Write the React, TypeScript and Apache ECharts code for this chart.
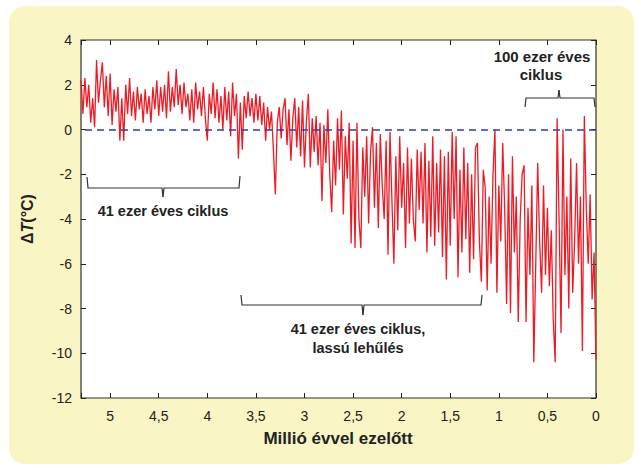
import React, { useEffect, useRef } from "react";
import * as echarts from "echarts";

// Sampling grid of the record (million years ago)
const AGE_START = 5.3;
const AGE_STEP = 0.02;

// Temperature anomaly (°C), oldest (5.30 Ma) to present (0.00 Ma)
const tempValues: number[] = [
  2.2, 0.7, 2.3, 1.0, 2.0,
  0.3, 1.4, 0.1, 3.1, 1.2,
  2.2, 3.0, 1.0, 2.4, 0.6,
  2.5, 0.2, 1.8, 0.8, 1.9,
  -0.5, 1.4, -0.5, 2.0, 0.7,
  2.3, 0.6, 1.7, 0.4, 1.9,
  0.9, 1.6, 0.3, 1.8, 0.7,
  1.5, 0.3, 1.9, 0.9, 2.2,
  0.6, 1.9, 0.8, 2.0, 0.5,
  2.6, 0.8, 1.9, 1.0, 2.7,
  1.1, 2.0, 0.7, 2.1, 1.0,
  1.6, 0.4, 1.8, 0.3, 2.1,
  0.9, 1.7, 0.6, 1.9, 0.5,
  -0.5, 1.6, 0.7, 2.1, 0.5,
  1.8, 0.3, 1.5, 0.0, 1.9,
  0.4, 1.7, -0.3, 2.1, 0.6,
  1.6, -1.3, 1.2, -0.9, 1.5,
  0.5, 1.7, 0.6, 1.4, 0.3,
  1.6, 0.4, 1.5, 0.2, 1.2,
  -0.5, 1.0, 0.0, 0.8, -0.9,
  -2.9, 0.3, 1.0, -0.4, 0.9,
  1.4, -0.7, 0.9, -1.4, 0.5,
  1.4, -0.8, 1.0, -1.2, 1.3,
  -1.7, 0.4, 1.6, -1.7, 0.5,
  -1.0, 0.6, -1.6, 0.3, -3.2,
  0.2, -1.5, 0.9, -2.0, -3.7,
  -0.5, -2.5, 0.5, -1.8, 0.85,
  -3.8, -0.3, -2.2, 0.3, -5.1,
  -0.5, -5.3, 0.3, -4.0, -5.3,
  -0.8, -3.0, -0.3, -4.2, -1.0,
  0.1, -3.5, -0.6, -4.4, -0.2,
  -2.5, -4.0, -0.5, -5.6, -0.1,
  -3.2, -6.0, -1.2, -4.5, -0.3,
  -3.5, -1.5, -5.3, -0.8, -4.2,
  -1.3, -4.0, -5.0, -0.9, -3.6,
  -1.0, -4.2, -0.6, -5.5, -1.4,
  -4.8, -0.3, -5.2, -1.5, -4.6,
  -0.9, -5.7, -1.2, -6.7, -1.0,
  -5.2, -0.1, -4.0, -0.3, -6.6,
  -1.8, -5.5, -0.8, -4.9, -1.5,
  -6.4, -2.0, -5.8, -0.8, -0.6,
  -5.0, -6.8, -1.8, -2.6, -7.2,
  -3.0, -6.0, -2.0, 0.0, -7.3,
  -2.5, -5.0, -0.6, -3.5, -7.8,
  -2.0, -8.2, -1.2, -5.5, -3.0,
  -8.6, -4.0, -2.0, -1.6, -8.6,
  -3.5, -6.5, -2.5, -10.4, -6.0,
  -1.5, -5.0, -7.3, -2.5, -6.5,
  -3.5, -7.0, -4.5, -8.5, -10.4,
  0.5, -4.0, -9.1, 0.0, -6.5,
  -3.0, -8.0, -1.3, -7.3, -5.0,
  -1.5, -6.0, -3.0, -9.9, 0.6,
  -3.5, -6.0, -2.9, -7.6, -5.5,
  -10.3,
];

const xTickLabels = ["5", "4,5", "4", "3,5", "3", "2,5", "2", "1,5", "1", "0,5", "0"];
const yTickValues = [4, 2, 0, -2, -4, -6, -8, -10, -12];

const X_MIN = 0;
const X_MAX = 5.3;
const X_INTERVAL = 0.5;
const Y_MIN = -12;
const Y_MAX = 4;
const Y_INTERVAL = 2;

const FONT = "'Liberation Sans', Arial, Helvetica, sans-serif";
const INK = "#222";

function fmtX(v: number): string {
  const k = Math.round(v / X_INTERVAL);
  if (Math.abs(k * X_INTERVAL - v) > 1e-6) return "";
  const idx = xTickLabels.length - 1 - k;
  return xTickLabels[idx] ?? "";
}

function fmtY(v: number): string {
  return yTickValues.includes(v) ? String(v) : "";
}

export default function App() {
  const ref = useRef<HTMLDivElement>(null);

  useEffect(() => {
    if (!ref.current) return;
    const chart = echarts.init(ref.current, undefined, { renderer: "svg" });
    const data = tempValues.map((v, i) => [+(AGE_START - i * AGE_STEP).toFixed(2), v]);

    const baseX = {
      type: "value" as const,
      min: X_MIN,
      max: X_MAX,
      interval: X_INTERVAL,
      inverse: true,
      axisLine: { show: false, onZero: false },
      splitLine: { show: false },
      axisTick: { show: true, inside: true, length: 5, lineStyle: { color: INK, width: 1 } },
    };
    const baseY = {
      type: "value" as const,
      min: Y_MIN,
      max: Y_MAX,
      interval: Y_INTERVAL,
      axisLine: { show: false, onZero: false },
      splitLine: { show: false },
      axisTick: { show: true, inside: true, length: 5, lineStyle: { color: INK, width: 1 } },
    };

    const textStyle = (s: string, x: number, y: number, size = 14.5) => ({
      type: "text",
      x,
      y,
      z: 100,
      style: {
        text: s,
        fill: INK,
        font: `bold ${size}px ${FONT}`,
        align: "center",
        verticalAlign: "middle",
      },
    });
    const brace = (pts: number[][]) => ({
      type: "polyline",
      z: 100,
      shape: { points: pts },
      style: { stroke: "#333", lineWidth: 1.2, fill: "none" },
    });

    chart.setOption({
      animation: false,
      backgroundColor: "transparent",
      textStyle: { fontFamily: FONT },
      grid: {
        left: 81,
        right: 45,
        top: 40,
        bottom: 70,
        show: true,
        backgroundColor: "#ffffff",
        borderColor: "#333",
        borderWidth: 1.2,
      },
      xAxis: [
        {
          ...baseX,
          position: "bottom",
          axisLabel: { formatter: fmtX, color: INK, fontSize: 14, margin: 11, fontFamily: FONT },
        },
        { ...baseX, position: "top", axisLabel: { show: false } },
      ],
      yAxis: [
        {
          ...baseY,
          position: "left",
          axisLabel: { formatter: fmtY, color: INK, fontSize: 14, margin: 9, fontFamily: FONT },
          name: "{d|Δ}{t|T}{d|(°C)}",
          nameLocation: "middle",
          nameGap: 46,
          nameRotate: 90,
          nameTextStyle: {
            rich: {
              d: { fontSize: 16, fontWeight: "bold", color: INK, fontFamily: FONT },
              t: { fontSize: 16, fontWeight: "bold", fontStyle: "italic", color: INK, fontFamily: FONT },
            },
          },
        },
        { ...baseY, position: "right", axisLabel: { show: false } },
      ],
      series: [
        {
          type: "line",
          xAxisIndex: 0,
          yAxisIndex: 0,
          data,
          showSymbol: false,
          symbol: "none",
          lineStyle: { color: "#ef1a24", width: 1.3 },
          z: 3,
          markLine: {
            silent: true,
            symbol: ["none", "none"],
            label: { show: false },
            lineStyle: { color: "#2f3f9f", type: [7, 5], width: 1.6 },
            data: [{ yAxis: 0 }],
            z: 5,
          },
        },
      ],
      graphic: [
        // 41 kyr bracket (early)
        brace([[87, 177], [88, 188], [162, 188], [163, 197]]),
        brace([[163, 197], [164, 188], [239, 188], [240, 176]]),
        textStyle("41 ezer éves ciklus", 163, 211),
        // 41 kyr bracket with slow cooling
        brace([[241, 295], [242, 305], [362, 305], [363, 315]]),
        brace([[363, 315], [364, 305], [481, 305], [482, 295]]),
        textStyle("41 ezer éves ciklus,", 358, 329),
        textStyle("lassú lehűlés", 358, 348),
        // 100 kyr bracket
        brace([[525, 107], [526, 98], [558, 98], [559, 90]]),
        brace([[559, 90], [560, 98], [594, 98], [595, 107]]),
        textStyle("100 ezer éves", 542, 56, 15),
        textStyle("ciklus", 541, 74, 15),
        // x-axis title
        textStyle("Millió évvel ezelőtt", 338, 438, 17),
      ],
    });

    return () => chart.dispose();
  }, []);

  return (
    <div style={{ position: "fixed", left: 0, top: 0, width: 641, height: 468, background: "#ffffff" }}>
      <div
        style={{
          position: "absolute",
          left: 9,
          top: 6,
          width: 625,
          height: 458,
          borderRadius: 16,
          background: "#f9f5c4",
        }}
      />
      <div ref={ref} style={{ position: "absolute", left: 0, top: 0, width: 641, height: 468 }} />
    </div>
  );
}
